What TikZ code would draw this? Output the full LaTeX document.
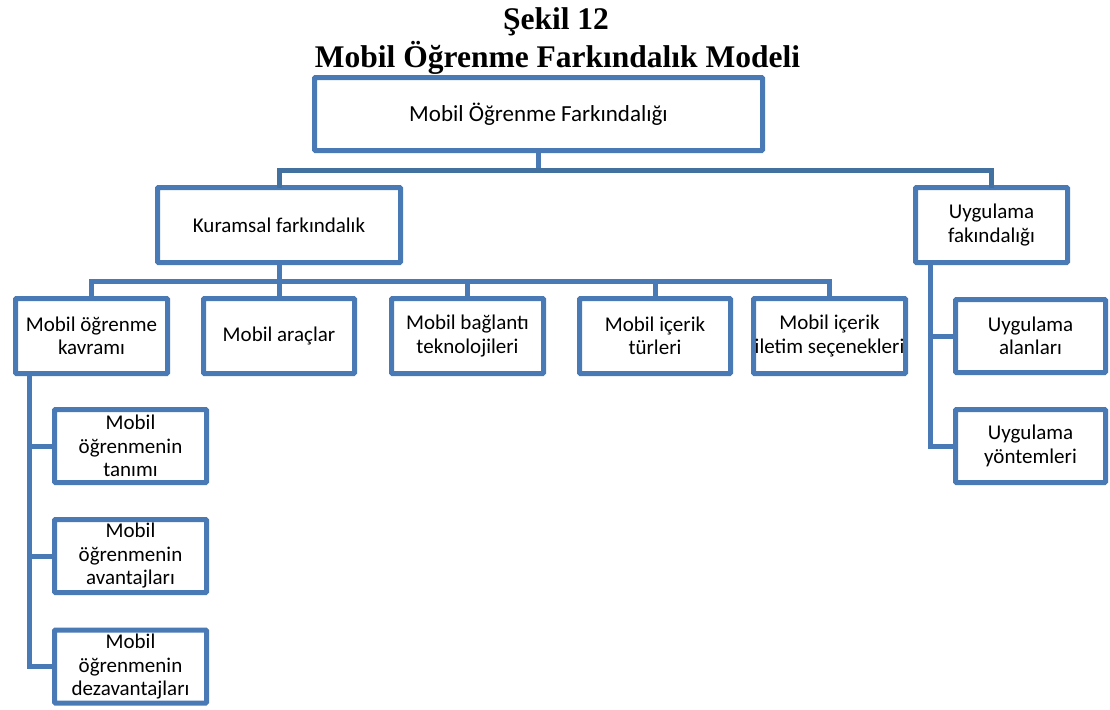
\documentclass[tikz,border=0pt]{standalone}
\usepackage{fontspec}
\setmainfont{Carlito}
\newfontfamily\titlefont{Liberation Serif}
\definecolor{bc}{HTML}{4A7AB5}
\definecolor{bd}{HTML}{42709F}
\begin{document}
\begin{tikzpicture}[x=1pt,y=-1pt,
  box/.style={draw=bc, line width=5pt, rounded corners=1pt, outer sep=0pt, inner sep=0pt, align=center,
    font=\fontsize{21}{23.5}\selectfont},
  conn/.style={draw=bc, line width=5pt},
  ttl/.style={anchor=base, font=\titlefont\bfseries\fontsize{31.5}{37}\selectfont}]
\useasboundingbox (0,0) rectangle (1110,709);
% title
\node[ttl] (t1) at (556,30) {Şekil 12};
\node[ttl] (t2) at (557.5,67) {Mobil Öğrenme Farkındalık Modeli};
% boxes
\node[box, minimum width=448pt, minimum height=73pt, font=\fontsize{23}{26}\selectfont] (top) at (538.5,114) {Mobil Öğrenme Farkındalığı};
\node[box, minimum width=243pt, minimum height=75pt] (kur) at (279,225) {Kuramsal farkındalık};
\node[box, minimum width=152pt, minimum height=75pt] (uyg) at (991.5,225) {Uygulama\\fakındalığı};
\node[box, minimum width=152pt, minimum height=75pt] (b1) at (91.5,336) {Mobil öğrenme\\kavramı};
\node[box, minimum width=151pt, minimum height=75pt] (b2) at (279,336) {Mobil araçlar};
\node[box, minimum width=152pt, minimum height=75pt] (b3) at (467.5,336) {Mobil bağlantı\\teknolojileri};
\node[box, minimum width=151pt, minimum height=75pt] (b4) at (655,336) {Mobil içerik\\türleri};
\node[box, minimum width=152pt, minimum height=75pt] (b5) at (829.5,336) {Mobil içerik\\iletim seçenekleri};
\node[box, minimum width=152pt, minimum height=73pt] (s1) at (130.5,446) {Mobil\\öğrenmenin\\tanımı};
\node[box, minimum width=152pt, minimum height=73pt] (s2) at (130.5,556) {Mobil\\öğrenmenin\\avantajları};
\node[box, minimum width=152pt, minimum height=73pt] (s3) at (130.5,666.5) {Mobil\\öğrenmenin\\dezavantajları};
\node[box, minimum width=150pt, minimum height=73pt] (u1) at (1030.5,336) {Uygulama\\alanları};
\node[box, minimum width=150pt, minimum height=73pt] (u2) at (1030.5,446) {Uygulama\\yöntemleri};
% connectors
\coordinate (bar1) at (538.5,170);
\coordinate (bar2) at (279,281);
\draw[conn] (top.south) -- (bar1);
\draw[conn, draw=bd] (bar1) -| (kur.north);
\draw[conn, draw=bd] (bar1) -| (uyg.north);
\draw[conn] (kur.south) -- (bar2);
\foreach \b in {b1,b2,b3,b4,b5} \draw[conn] (bar2) -| (\b.north);
\foreach \s in {s1,s2,s3} \draw[conn] ([xshift=13.5pt]b1.south west) |- (\s.west);
\foreach \s in {u1,u2} \draw[conn] ([xshift=14.5pt]uyg.south west) |- (\s.west);
\end{tikzpicture}
\end{document}
